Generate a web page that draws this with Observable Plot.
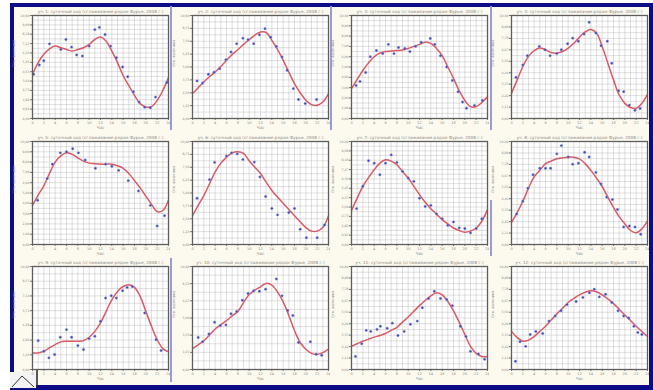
<!DOCTYPE html>
<html><head><meta charset="utf-8">
<script src="https://cdn.jsdelivr.net/npm/d3@7"></script>
<script src="https://cdn.jsdelivr.net/npm/@observablehq/plot@0.6"></script>
<style>
html,body{margin:0;padding:0;background:#fff;}
#wrap{position:relative;width:653px;height:390px;overflow:hidden;background:#fff;font-family:"DejaVu Sans",sans-serif;}
#frame{position:absolute;left:10px;top:3px;width:635px;height:378px;border:4px solid #0c0c86;border-right-width:5px;border-bottom-width:5px;background:#fcf9ee;}
.sep{position:absolute;width:2px;background:#9a9ad8;}
.pn{position:absolute;}
#icon{position:absolute;left:10px;top:368px;}
</style></head><body>
<div id="wrap"><div id="frame"></div>
<svg id="icon" width="30" height="20"><rect x="0" y="4" width="26" height="16" fill="#f4f4f4"/><path d="M2,19 L12,8 L24,19" fill="none" stroke="#333" stroke-width="1"/><line x1="27" y1="0" x2="27" y2="20" stroke="#222" stroke-width="1.5"/></svg>
</div>
<script>
const hours = d3.range(0, 25);
const xTicks = [0,2,4,6,8,10,12,14,16,18,20,22,24];
const titles = [
 "уч. 1: суточный ход (сглаживание рядом Фурье, 2008 г.)",
 "уч. 2: суточный ход (сглаживание рядом Фурье, 2008 г.)",
 "уч. 3: суточный ход (сглаживание рядом Фурье, 2008 г.)",
 "уч. 4: суточный ход (сглаживание рядом Фурье, 2008 г.)",
 "уч. 5: суточный ход (сглаживание рядом Фурье, 2008 г.)",
 "уч. 6: суточный ход (сглаживание рядом Фурье, 2008 г.)",
 "уч. 7: суточный ход (сглаживание рядом Фурье, 2008 г.)",
 "уч. 8: суточный ход (сглаживание рядом Фурье, 2008 г.)",
 "уч. 9: суточный ход (сглаживание рядом Фурье, 2008 г.)",
 "уч. 10: суточный ход (сглаживание рядом Фурье, 2008 г.)",
 "уч. 11: суточный ход (сглаживание рядом Фурье, 2008 г.)",
 "уч. 12: суточный ход (сглаживание рядом Фурье, 2008 г.)"
];
const xLabel = "Час";
const yLabel = "Отн. величина";
const yTickCounts = [11,8,10,9,10,8,11,9,7,6,9,9];

const curve1 = [4.31,5.43,6.23,6.77,7.03,6.87,6.7,6.55,6.7,6.87,7.19,7.67,7.92,7.5,6.55,5.43,4.15,3.19,2.24,1.44,1.12,1.15,1.76,2.72,3.99];
const curve2 = [2.42,2.98,3.55,4.05,4.52,5.05,5.65,6.2,6.68,7.2,7.65,8.1,8.39,8.35,7.58,6.7,5.65,4.5,3.39,2.5,1.77,1.35,1.29,1.6,2.42];
const curve3 = [2.9,3.8,4.66,5.4,6.0,6.35,6.5,6.55,6.6,6.65,6.8,7.0,7.2,7.4,7.3,6.8,6.1,5.0,3.9,2.7,1.75,1.15,1.15,1.55,2.1];
const curve4 = [2.44,3.75,5.05,6.03,6.6,6.84,6.68,6.4,6.35,6.5,6.84,7.3,7.9,8.4,8.63,8.3,7.0,5.37,3.75,2.28,1.47,1.07,0.98,1.47,2.35];
const curve5 = [3.8,4.8,5.7,6.9,8.0,8.6,8.9,8.75,8.4,8.1,7.9,7.85,7.8,7.8,7.8,7.65,7.4,6.9,6.2,5.5,4.7,3.9,3.2,3.3,4.3];
const curve6 = [2.79,3.8,4.75,5.9,7.05,7.9,8.46,8.9,9.0,8.85,8.13,7.5,6.9,6.05,5.25,4.6,4.0,3.4,2.79,2.2,1.64,1.3,1.3,1.64,2.79];
const curve7 = [3.29,4.5,5.65,6.5,7.26,7.9,8.23,8.1,7.74,7.1,6.45,5.65,4.84,4.1,3.48,2.95,2.42,2.0,1.6,1.35,1.2,1.3,1.6,2.26,3.39];
const curve8 = [2.15,3.1,4.2,5.47,6.58,7.2,7.85,8.1,8.32,8.43,8.48,8.48,8.32,7.85,7.2,6.45,5.63,4.6,3.6,2.7,2.0,1.36,1.14,1.52,2.3];
const curve9 = [1.61,1.61,1.77,2.1,2.42,2.68,2.74,2.74,2.74,2.8,3.13,3.7,4.52,5.65,6.77,7.58,8.06,8.23,7.97,7.1,5.65,4.19,2.9,2.03,1.71];
const curve10 = [2.03,2.4,2.79,3.35,3.93,4.35,4.75,5.2,5.64,6.5,7.28,7.7,8.03,8.36,8.2,7.54,6.56,5.25,3.77,2.62,1.97,1.57,1.48,1.64,1.97];
const curve11 = [2.25,2.5,2.75,2.95,3.14,3.3,3.5,3.8,4.1,4.6,5.1,5.65,6.2,6.7,7.15,7.45,7.25,6.6,5.7,4.6,3.4,2.25,1.57,1.27,1.27];
const curve12 = [3.7,3.1,2.75,2.85,3.2,3.7,4.2,4.8,5.4,5.95,6.5,6.9,7.25,7.5,7.65,7.55,7.25,6.85,6.4,5.85,5.3,4.75,4.2,3.7,3.2];

const pts1 = [[0.2,4.3],[1.2,5.2],[2,5.6],[3,7.25],[5,6.7],[5.9,7.67],[6.9,6.93],[7.8,6.17],[8.8,6.07],[10,7.03],[11,8.63],[11.8,8.85],[12.8,8.15],[13.8,7.03],[14.8,5.9],[15.9,5.0],[16.8,4.06],[17.8,2.6],[18.8,1.6],[19.8,1.1],[20.8,1.05],[21.7,2.08],[23.7,3.5]];
const pts2 = [[0.8,3.65],[1.8,3.45],[2.8,4.3],[3.8,4.5],[4.8,4.84],[5.9,5.7],[6.8,6.45],[7.8,7.26],[8.9,7.8],[9.8,7.65],[10.8,7.26],[11.8,8.13],[12.8,8.71],[13.8,7.9],[14.8,7.0],[15.8,5.97],[16.7,4.68],[17.8,2.9],[18.7,1.84],[19.9,1.45],[21.9,1.84]];
const pts3 = [[0.8,3.2],[1.5,3.6],[2.5,4.47],[3.3,6.0],[4.4,6.6],[5.5,6.3],[6.5,7.2],[7.5,6.3],[8.3,6.9],[9.4,6.8],[10.3,6.5],[11.3,7.0],[12.3,7.4],[13.9,7.77],[14.7,7.2],[15.7,6.1],[16.8,5.0],[17.8,3.7],[18.8,2.6],[19.6,1.6],[20.3,1.0],[21.7,1.26],[23.1,1.75]];
const pts4 = [[0.8,4.0],[2,5.2],[2.8,6.1],[4.9,7.0],[5.9,6.68],[6.8,6.1],[8,6.3],[8.8,6.68],[9.9,7.26],[10.8,7.8],[11.8,7.5],[12.8,8.2],[13.7,9.35],[14.9,8.3],[15.8,7.07],[16.9,7.5],[17.7,5.37],[18.9,2.7],[19.8,2.6],[20.8,1.3],[21.8,0.8],[22.7,0.98]];
const pts5 = [[0.9,4.3],[2.6,6.4],[3.5,7.8],[4.9,8.9],[6,9.0],[7.1,9.3],[8.1,8.9],[9.3,8.2],[11.1,7.4],[12.9,7.8],[14,7.6],[15.2,7.2],[16.9,6.2],[18.7,5.2],[20.8,3.8],[22,1.8],[23.3,2.8]];
const pts6 = [[0.8,4.5],[3,6.3],[3.9,7.97],[6,8.6],[6.9,8.9],[7.9,8.8],[8.9,8.26],[10.9,8.0],[11.9,6.56],[12.9,4.66],[14,3.5],[15,2.88],[17,3.1],[18,3.5],[19,1.48],[20.1,0.66],[22,0.66],[23.3,1.9]];
const pts7 = [[0.9,3.48],[2,5.65],[3,8.13],[4,7.9],[5,6.77],[6,7.9],[7,8.7],[8,7.97],[9,7.1],[10,6.45],[11,6.13],[12,4.5],[13,3.7],[14,3.8],[15,2.97],[16,2.5],[17,1.87],[18,2.19],[19,1.6],[20,1.55],[21,1.13],[22,1.55],[23,2.5]];
const pts8 = [[0.9,2.97],[2,4.2],[2.9,5.47],[3.8,6.77],[5,7.4],[6,7.4],[6.9,7.4],[8,8.8],[8.8,9.6],[10,8.5],[10.8,7.8],[11.8,7.9],[12.9,8.95],[13.7,8.5],[14.9,7.0],[15.8,5.88],[16.8,4.6],[17.8,4.37],[18.7,3.4],[19.8,1.7],[20.8,1.8],[21.8,1.7],[22.8,1.0]];
const pts9 = [[1,2.8],[2,1.77],[2.9,1.13],[3.9,1.45],[4.9,3.13],[6,3.87],[6.9,3.13],[8,2.32],[9,1.94],[10,3.0],[11,3.23],[12,4.68],[12.9,6.94],[13.9,7.16],[14.8,6.94],[15.9,7.65],[16.7,7.97],[17.6,8.06],[19.8,5.48],[21.8,2.9],[22.7,1.84]];
const pts10 = [[1,3.11],[1.8,2.69],[2.9,3.44],[3.9,4.59],[4.9,4.26],[5.9,4.33],[6.8,5.41],[7.8,5.64],[8.8,6.72],[9.8,7.38],[10.8,7.64],[11.8,7.6],[12.9,7.8],[14.8,8.79],[15.8,7.15],[16.8,5.74],[17.7,5.25],[18.7,2.62],[20.8,2.69],[21.8,1.48],[22.8,1.38]];
const pts11 = [[0.7,1.27],[1.8,2.5],[2.6,3.8],[3.4,3.7],[4.5,3.9],[5.1,4.2],[6.3,4.0],[7.2,4.5],[8.2,3.3],[9.3,3.7],[10.4,4.4],[11.6,4.7],[12.5,6.0],[13.6,6.9],[14.6,7.6],[15.7,6.9],[16.8,6.8],[17.8,6.2],[19.2,4.2],[20.2,3.2],[21,1.76],[22.4,1.5],[23.5,1.0]];
const pts12 = [[0.7,0.8],[1.5,2.7],[2.5,2.25],[3.3,3.4],[4.3,3.7],[5.5,3.5],[6.6,4.7],[7.7,5.2],[8.75,5.7],[9.8,6.3],[11.4,6.6],[12.6,7.0],[13.75,7.45],[14.6,7.8],[15.5,7.05],[16.6,7.3],[17.7,6.5],[18.8,5.7],[19.8,5.2],[20.7,5.0],[21.6,4.2],[22.3,3.6],[23,3.4]];

const curves = [curve1,curve2,curve3,curve4,curve5,curve6,curve7,curve8,curve9,curve10,curve11,curve12];
const points = [pts1,pts2,pts3,pts4,pts5,pts6,pts7,pts8,pts9,pts10,pts11,pts12];

const colFrameLeft = [32,192,351,511];
const rowFrameTop = [15,141,266];
const ML = 24, MT = 14, MB = 13, MR = 2, FW = 136, FH = 103;

const wrap = document.getElementById("wrap");
[[170,6,124],[330,6,124],[490,6,124],[490,200,56],[170,258,124]].forEach(([x,y,h])=>{
  const d=document.createElement("div");d.className="sep";
  d.style.left=x+"px";d.style.top=y+"px";d.style.height=h+"px";wrap.appendChild(d);
});

curves.forEach((cv, i) => {
  const col = i % 4, row = Math.floor(i / 4);
  const n = yTickCounts[i];
  const yt = d3.range(n + 1).map(k => k * 10 / n);
  const ygrid = d3.range(2 * n + 1).map(k => k * 5 / n);
  const line = hours.map((h, k) => ({h, v: cv[k]}));
  const dots = points[i].map(([h, v]) => ({h, v}));
  const chart = Plot.plot({
    width: ML + FW + MR, height: MT + FH + MB,
    marginLeft: ML, marginRight: MR, marginTop: MT, marginBottom: MB,
    style: {background: "transparent", fontFamily: "DejaVu Sans, sans-serif"},
    x: {domain: [0, 24]},
    y: {domain: [0, 10]},
    marks: [
      Plot.frame({fill: "white"}),
      Plot.gridX(d3.range(0, 25, 1), {stroke: "#a8a8a8", strokeOpacity: 0.6, strokeWidth: 0.6}),
      Plot.gridY(ygrid, {stroke: "#a8a8a8", strokeOpacity: 0.6, strokeWidth: 0.6}),
      Plot.axisX({ticks: xTicks, tickSize: 2, tickPadding: 1, fontSize: 3.5, label: null, stroke: "#777", fill: "#888"}),
      Plot.axisY({ticks: yt, tickSize: 2, tickPadding: 1, fontSize: 3.2, label: null, stroke: "#777", fill: "#888",
        tickFormat: d => d3.format(".2f")(d).replace(".", ",")}),
      Plot.line(line, {x: "h", y: "v", curve: "catmull-rom", stroke: "#d2404e", strokeWidth: 1.5, strokeOpacity: 0.85}),
      Plot.dot(dots, {x: "h", y: "v", r: 1.2, fill: "#3b44b4", stroke: "#8a90d8", strokeWidth: 0.5}),
      Plot.frame({stroke: "#5e5e5e", strokeWidth: 1.3}),
      Plot.text([titles[i]], {frameAnchor: "top", dy: -5, fontSize: 4.2, fill: "#8a8a8a"}),
      Plot.text([xLabel], {frameAnchor: "bottom", dy: 10, fontSize: 4, fill: "#888"}),
      Plot.text([yLabel], {frameAnchor: "left", rotate: -90, dx: -19, fontSize: 3.6, fill: "#888"})
    ]
  });
  chart.classList.add("pn");
  chart.style.left = (colFrameLeft[col] - ML) + "px";
  chart.style.top = (rowFrameTop[row] - MT) + "px";
  wrap.appendChild(chart);
});
</script>
</body></html>
